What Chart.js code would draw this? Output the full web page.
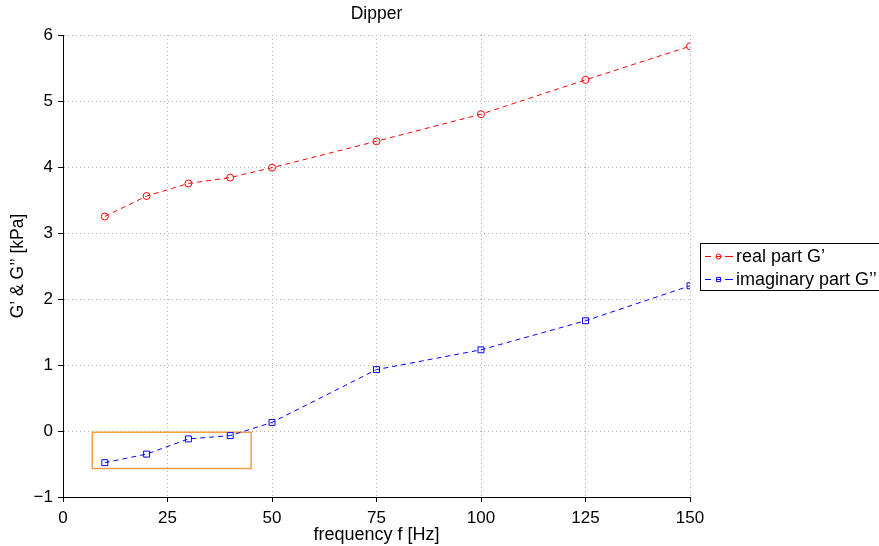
<!DOCTYPE html>
<html>
<head>
<meta charset="utf-8">
<script src="https://cdn.jsdelivr.net/npm/chart.js@4"></script>
<style>
  html, body { margin: 0; padding: 0; background: #fff; }
</style>
</head>
<body>
<canvas id="dipper" width="879" height="546"></canvas>
<script>
// values
var frequency = [10, 20, 30, 40, 50, 75, 100, 125, 150];
var realPart = [3.25, 3.56, 3.75, 3.84, 3.99, 4.39, 4.80, 5.32, 5.83];
var imagPart = [-0.48, -0.35, -0.12, -0.07, 0.13, 0.93, 1.23, 1.67, 2.20];
var boxX = [7, 45, 45, 7, 7];
var boxY = [-0.02, -0.02, -0.57, -0.57, -0.02];

var FONT = "'Liberation Sans', Arial, sans-serif";

function toPoints(xs, ys) {
  return xs.map(function (x, i) { return { x: x, y: ys[i] }; });
}

// matlab style legend: dash - marker - dash, framed box
var matlabLegend = {
  id: "matlabLegend",
  afterDraw: function (chart) {
    var ctx = chart.ctx;
    var left = 700, top = 243, right = 882, bottom = 290;
    ctx.save();
    ctx.fillStyle = "#fff";
    ctx.fillRect(left, top, right - left, bottom - top);
    ctx.strokeStyle = "#000";
    ctx.lineWidth = 1;
    ctx.strokeRect(left + 0.5, top + 0.5, right - left, bottom - top);
    var rows = [256, 279];
    chart.data.datasets.slice(0, 2).forEach(function (ds, i) {
      var y = rows[i] + 0.5;
      ctx.strokeStyle = ds.borderColor;
      ctx.lineWidth = 1;
      ctx.beginPath();
      ctx.moveTo(705, y); ctx.lineTo(711, y);
      ctx.moveTo(725, y); ctx.lineTo(733, y);
      ctx.stroke();
      ctx.fillStyle = "rgba(0,0,0,0)";
      Chart.helpers.drawPoint(ctx, {
        pointStyle: ds.pointStyle,
        radius: ds.pointStyle === "rect" ? 3 : 2.5,
        borderWidth: 1
      }, 718.5, y);
      ctx.beginPath();
      ctx.moveTo(716, y); ctx.lineTo(721, y);
      ctx.stroke();
      ctx.fillStyle = "#000";
      ctx.font = "18px " + FONT;
      ctx.textBaseline = "middle";
      ctx.fillText(ds.label, 736, y + 1);
    });
    ctx.restore();
  }
};

new Chart("dipper", {
  type: "line",
  data: {
    datasets: [
      {
        label: "real part G\u2019",
        data: toPoints(frequency, realPart),
        borderColor: "#ff0000",
        backgroundColor: "rgba(0,0,0,0)",
        borderWidth: 1,
        borderDash: [5, 4],
        pointStyle: "circle",
        pointRadius: 3.5,
        pointBorderWidth: 1,
        pointBorderColor: "#ff0000",
        pointBackgroundColor: "rgba(0,0,0,0)"
      },
      {
        label: "imaginary part G\u2019\u2019",
        data: toPoints(frequency, imagPart),
        borderColor: "#0000ff",
        backgroundColor: "rgba(0,0,0,0)",
        borderWidth: 1,
        borderDash: [5, 4],
        pointStyle: "rect",
        pointRadius: 4.2,
        pointBorderWidth: 1,
        pointBorderColor: "#0000ff",
        pointBackgroundColor: "rgba(0,0,0,0)"
      },
      {
        label: "box",
        data: toPoints(boxX, boxY),
        borderColor: "#f0a040",
        borderWidth: 1.5,
        pointRadius: 0,
        fill: false
      }
    ]
  },
  options: {
    responsive: false,
    animation: false, // static picture
    layout: { padding: { top: 35, right: 189, left: 0, bottom: 0 } },
    plugins: {
      legend: { display: false },
      tooltip: { enabled: false },
      title: { display: false }
    },
    scales: {
      x: {
        type: "linear",
        min: 0,
        max: 150,
        afterFit: function (s) { s.height = 49; },
        ticks: { stepSize: 25, color: "#000", padding: 6, font: { family: FONT, size: 17 } },
        grid: { color: "#b0b0b0", tickColor: "#000", tickLength: 5, lineWidth: 1 },
        border: { display: true, color: "#000", width: 1, dash: [1, 3] },
        title: {
          display: true,
          text: "frequency f [Hz]",
          color: "#000",
          font: { family: FONT, size: 18 },
          padding: { top: 0, bottom: 0 }
        }
      },
      y: {
        type: "linear",
        min: -1,
        max: 6,
        afterFit: function (s) { s.width = 63; },
        ticks: {
          stepSize: 1,
          color: "#000",
          padding: 5,
          font: { family: FONT, size: 17 },
          callback: function (v) { return v < 0 ? "\u2212" + Math.abs(v) : String(v); }
        },
        grid: { color: "#b0b0b0", tickColor: "#000", tickLength: 5, lineWidth: 1 },
        border: { display: true, color: "#000", width: 1, dash: [1, 3] },
        title: {
          display: true,
          text: "G\u2019 & G\u2019\u2019 [kPa]",
          color: "#000",
          font: { family: FONT, size: 17.5 },
          padding: { top: 8, bottom: 0 }
        }
      }
    }
  },
  plugins: [
    matlabLegend,
    {
      id: "plotTitle",
      afterDraw: function (chart) {
        var ctx = chart.ctx, a = chart.chartArea;
        ctx.save();
        ctx.fillStyle = "#000";
        ctx.font = "17.5px " + FONT;
        ctx.textAlign = "center";
        ctx.textBaseline = "middle";
        ctx.fillText("Dipper", (a.left + a.right) / 2, 14);
        ctx.restore();
      }
    }
  ]
});
</script>
</body>
</html>
